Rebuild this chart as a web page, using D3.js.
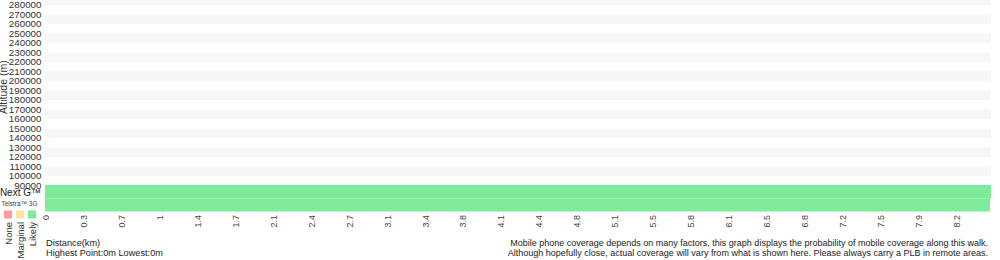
<!DOCTYPE html>
<html>
<head>
<meta charset="utf-8">
<script src="https://cdn.jsdelivr.net/npm/d3@7/dist/d3.min.js"></script>
<style>
html,body{margin:0;padding:0;background:#fff;}
svg{display:block;font-family:"Liberation Sans",Arial,Helvetica,sans-serif;}
</style>
</head>
<body>
<svg id="chart" width="1000" height="260"></svg>
<script>
// ---- data ----
const distanceTicks = ["0","0.3","0.7","1","1.4","1.7","2.1","2.4","2.7","3.1","3.4","3.8","4.1","4.4","4.8","5.1","5.5","5.8","6.1","6.5","6.8","7.2","7.5","7.9","8.2"];
const altitudeTicks = [280000,270000,260000,250000,240000,230000,220000,210000,200000,190000,180000,170000,160000,150000,140000,130000,120000,110000,100000,90000];
const totalDistanceKm = 8.56;
const networks = ["Next G™", "Telstra™ 3G"];
const nextGCoverage = ["Likely"];      // coverage along the whole walk
const telstra3GCoverage = ["Likely"];
const coverageLevels = ["None", "Marginal", "Likely"];
const coverageColors = ["#ff9c9c", "#fde3a3", "#7deb99"];
const highestPoint = 0, lowestPoint = 0;
const noteLines = [
  "Mobile phone coverage depends on many factors, this graph displays the probability of mobile coverage along this walk.",
  "Although hopefully close, actual coverage will vary from what is shown here. Please always carry a PLB in remote areas."
];

// ---- layout ----
const svg = d3.select("#chart");
const plotLeft = 45, plotRight = 991;
const tickStep = 37.95;

const xIdx = d3.scaleLinear().domain([0, distanceTicks.length - 1]).range([46, 46 + tickStep * (distanceTicks.length - 1)]);
const xKm = d3.scaleLinear().domain([0, totalDistanceKm]).range([plotLeft, plotRight]);
const y = d3.scaleLinear().domain([90000, 280000]).range([185.5, 5]);
const color = d3.scaleOrdinal().domain(coverageLevels).range(coverageColors);

// stripes
const stripeStarts = d3.range(290000, 100000, -20000);
svg.append("g").selectAll("rect").data(stripeStarts).join("rect")
  .attr("x", plotLeft)
  .attr("width", plotRight - plotLeft)
  .attr("y", d => Math.max(0, y(d)))
  .attr("height", d => y(d - 10000) - Math.max(0, y(d)))
  .attr("fill", "#f7f7f7");

// y axis labels
svg.append("g").selectAll("text").data(altitudeTicks).join("text")
  .attr("x", 41.5)
  .attr("y", d => y(d))
  .attr("dy", "0.35em")
  .attr("text-anchor", "end")
  .attr("font-size", 9.8)
  .attr("fill", "#333")
  .text(d => d);

// axis title
svg.append("text")
  .attr("transform", `translate(7,${y(193500)}) rotate(-90)`)
  .attr("text-anchor", "middle")
  .attr("font-size", 10.5)
  .attr("fill", "#333")
  .text("Altitude (m)");

// coverage bands
const bandTop = 185, bandMid = 198.5, bandBottom = 211.5;
const bands = [
  {name: networks[0], cov: nextGCoverage, y0: bandTop, y1: bandMid, end: plotRight},
  {name: networks[1], cov: telstra3GCoverage, y0: bandMid, y1: bandBottom, end: plotRight - 1}
];
bands.forEach(b => {
  const n = b.cov.length;
  svg.append("g").selectAll("rect").data(b.cov).join("rect")
    .attr("x", (d, i) => xKm(totalDistanceKm * i / n))
    .attr("width", (d, i) => Math.min(b.end, xKm(totalDistanceKm * (i + 1) / n)) - xKm(totalDistanceKm * i / n))
    .attr("y", b.y0)
    .attr("height", b.y1 - b.y0)
    .attr("fill", d => color(d));
});

svg.append("text").attr("x", 41).attr("y", 195.5).attr("text-anchor", "end")
  .attr("font-size", 10).attr("fill", "#222").text(networks[0]);
svg.append("text").attr("x", 37.5).attr("y", 206).attr("text-anchor", "end")
  .attr("font-size", 6.5).attr("fill", "#444").text(networks[1]);

// legend
const leg = svg.append("g");
leg.selectAll("rect").data(coverageLevels).join("rect")
  .attr("x", (d, i) => 4 + i * 12).attr("y", 210.5)
  .attr("width", 8).attr("height", 8)
  .attr("fill", d => color(d));
leg.selectAll("text").data(coverageLevels).join("text")
  .attr("transform", (d, i) => `translate(${11.5 + i * 12},222) rotate(-90)`)
  .attr("text-anchor", "end")
  .attr("font-size", 9.5)
  .attr("fill", "#333")
  .text(d => d);

// x tick labels
svg.append("g").selectAll("text").data(distanceTicks).join("text")
  .attr("transform", (d, i) => `translate(${xIdx(i) + 3},215) rotate(-90)`)
  .attr("text-anchor", "end")
  .attr("font-size", 9)
  .attr("fill", "#444")
  .text(d => d);

// bottom texts
svg.append("text").attr("x", 46).attr("y", 246).attr("font-size", 9.2).attr("fill", "#222").text("Distance(km)");
svg.append("text").attr("x", 46).attr("y", 256).attr("font-size", 9.2).attr("fill", "#222")
  .text(`Highest Point:${highestPoint}m Lowest:${lowestPoint}m`);

svg.append("g").selectAll("text").data(noteLines).join("text")
  .attr("x", 988).attr("y", (d, i) => 246 + i * 10)
  .attr("text-anchor", "end")
  .attr("font-size", 9)
  .attr("fill", "#222")
  .text(d => d);
</script>
</body>
</html>
